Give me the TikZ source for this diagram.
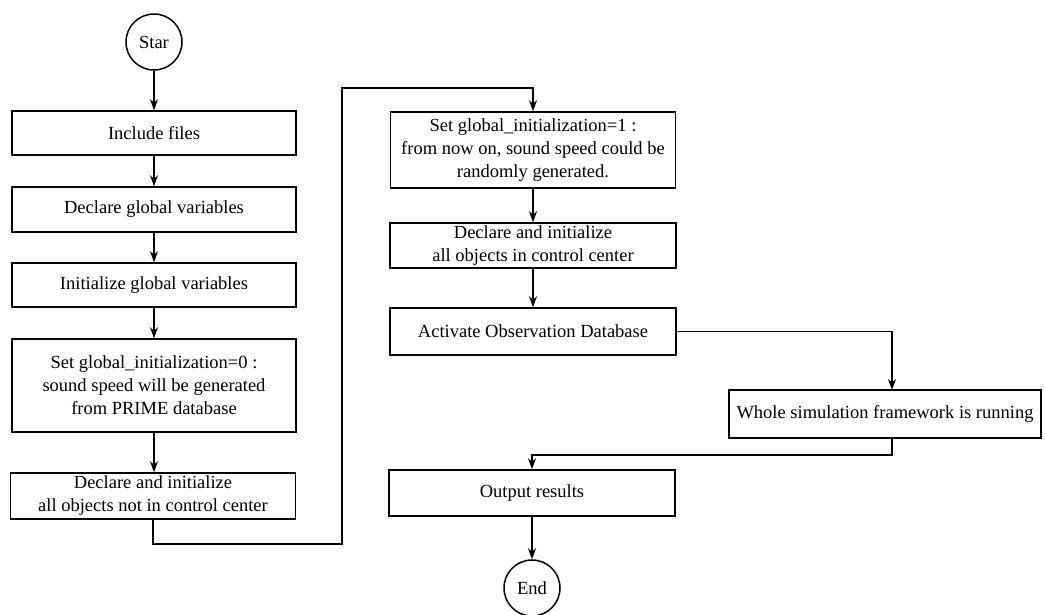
\documentclass[tikz,border=0pt]{standalone}
\usepackage{fontspec}
\setmainfont{Liberation Serif}
\usetikzlibrary{arrows.meta,positioning,calc}
\begin{document}
\begin{tikzpicture}[x=1pt,y=-1pt,
  box/.style={draw,line width=1.5pt,rectangle,align=center,font=\fontsize{18.5}{23}\selectfont,inner sep=2pt},
  term/.style={draw,line width=1.5pt,circle,minimum size=56pt,inner sep=0pt,font=\fontsize{18.5}{20}\selectfont},
  arr/.style={line width=1.5pt,-{Stealth[length=11pt,width=8pt]}}]
\useasboundingbox (0,0) rectangle (1045,614);
\node[term] (star) at (154,42) {Star};
\node[box,minimum width=284pt,minimum height=44pt] (incl) at (154,133) {Include files};
\node[box,minimum width=284pt,minimum height=45pt] (dgv) at (154,209.5) {Declare global variables};
\node[box,minimum width=284pt,minimum height=44pt] (igv) at (154,285) {Initialize global variables};
\node[box,minimum width=284pt,minimum height=93pt] (set0) at (154,385.5) {Set global\_initialization=0 :\\ sound speed will be generated\\ from PRIME database};
\node[box,minimum width=285pt,minimum height=46pt] (dnot) at (153,496) {Declare and initialize\\ all objects not in control center};
\node[box,minimum width=285pt,minimum height=76pt] (set1) at (533,150) {Set global\_initialization=1 :\\ from now on, sound speed could be\\ randomly generated.};
\node[box,minimum width=286pt,minimum height=45pt] (dcc) at (533,245.5) {Declare and initialize\\ all objects in control center};
\node[box,minimum width=286pt,minimum height=47pt] (act) at (533,331.5) {Activate Observation Database};
\node[box,minimum width=312pt,minimum height=48pt] (whole) at (885,414) {Whole simulation framework is running};
\node[box,minimum width=286pt,minimum height=46pt] (out) at (532,493) {Output results};
\node[term] (end) at (532,588) {End};
\coordinate (c1) at (342,544);
\coordinate (c2) at (342,88);
\coordinate (wtop) at (892,390);
\coordinate (wbot) at (892,438);
\draw[arr] (star.south) -- (incl.north);
\draw[arr] (incl.south) -- (dgv.north);
\draw[arr] (dgv.south) -- (igv.north);
\draw[arr] (igv.south) -- (set0.north);
\draw[arr] (set0.south) -- (set0.south |- dnot.north);
\draw[arr] (dnot.south) |- (c1) -- (c2) -| (set1.north);
\draw[arr] (set1.south) -- (dcc.north);
\draw[arr] (dcc.south) -- (act.north);
\draw[arr] (act.east) -| (wtop);
\draw[arr] (wbot) -- ++(0,17) -| (out.north);
\draw[arr] (out.south) -- (end.north);
\end{tikzpicture}
\end{document}
